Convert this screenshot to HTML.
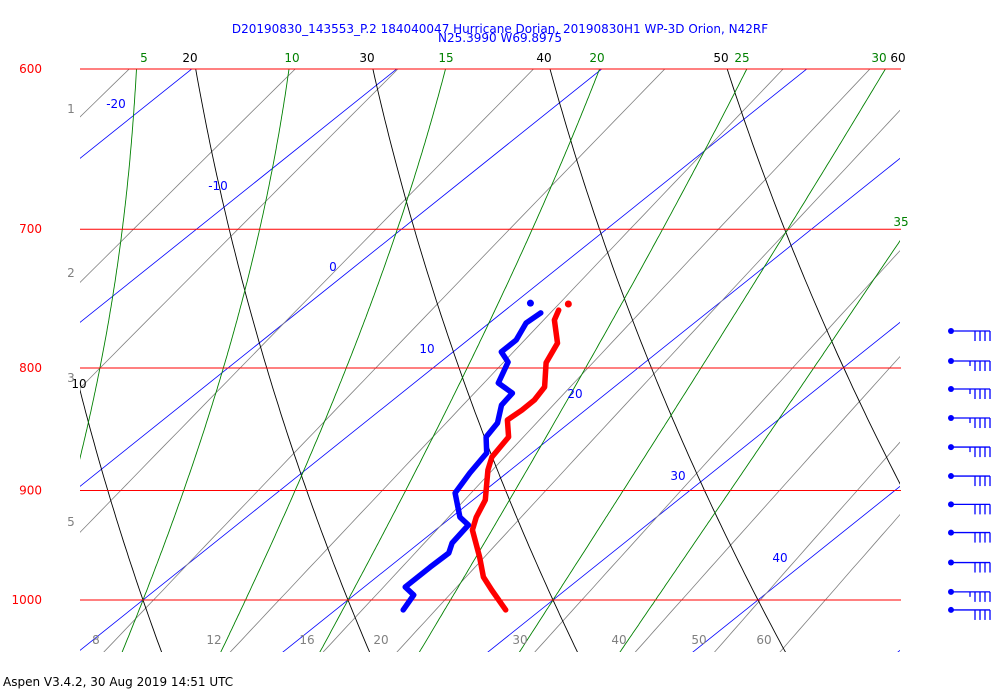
<!DOCTYPE html>
<html><head><meta charset="utf-8">
<style>
html,body{margin:0;padding:0;background:#fff;}
svg{display:block;font-family:"DejaVu Sans","Liberation Sans",sans-serif;}
</style></head>
<body>
<svg id="chart" width="1000" height="700" viewBox="0 0 1000 700">
<defs><clipPath id="plotclip"><rect x="80" y="69" width="820" height="583"/></clipPath></defs>
<text x="500" y="33" text-anchor="middle" font-size="12" fill="#0000ff">D20190830_143553_P.2 184040047 Hurricane Dorian, 20190830H1 WP-3D Orion, N42RF</text>
<text x="500" y="42" text-anchor="middle" font-size="12" fill="#0000ff">N25.3990 W69.8975</text>
<g id="grid" clip-path="url(#plotclip)"></g>
<g id="isobars"></g>
<g id="labels"></g>
<g id="profiles"></g>
<g id="barbs"></g>
<text x="3" y="686" font-size="12" fill="#000">Aspen V3.4.2, 30 Aug 2019  14:51 UTC</text>
</svg>
<script>
// ---- data ----
const tempP  = [752.2,756.6,763.9,781,796,814.7,825,833,841,854.9,871.5,882.5,908.3,923.3,934.9,959.5,978.1,990.4,1009.6];
const tempC  = [12.7,12.6,13.0,14.55,15.2,16.6,16.9,16.9,16.8,17.9,18.3,18.9,20.6,21.2,21.8,23.8,25.2,26.4,28.3];
const dewP   = [751.6,758.7,766.1,778.7,787.7,795.4,811.6,819.5,829,843.4,854.9,868.1,885,902.2,923.3,930.4,946.6,955.8,968.8,987.6,995.2,1009.6];
const dewC   = [10.8,11.9,11.8,12.35,12.35,13.3,14.1,15.4,15.6,16.5,16.8,17.8,18.2,18.7,20.4,21.3,21.6,22.05,22.0,22.0,22.9,23.3];
const barbP  = [772,794.6,816.3,839.4,863.2,887.6,912.1,937.2,964.6,992.2,1009.6];
const barbKt = [40,45,45,45,45,40,40,40,40,45,40];
const isobarLevels = [600,700,800,900,1000];
const isotherms = [-60,-50,-40,-30,-20,-10,0,10,20,30,40,50,60];
const dryAdiabats = [0,10,20,30,40,50,60,70];
const moistAdiabats = [5,10,15,20,25,30,35];
const mixRatios = [1,2,3,5,8,12,16,20,30,40,50,60];

const NS='http://www.w3.org/2000/svg';
const SKEW=1.25;
function Y(p){return 69+1039.5*Math.log(p/600);}
function X(T,p){return 143+20.5*(T-10)+(600-Y(p))*SKEW;}
function mk(tag,attrs,parent){const e=document.createElementNS(NS,tag);for(const k in attrs)e.setAttribute(k,attrs[k]);parent.appendChild(e);return e;}
const grid=document.getElementById('grid');
function poly(pts,color,w,parent,name){
  const e=mk('polyline',{points:pts.map(q=>q[0].toFixed(1)+','+q[1].toFixed(1)).join(' '),fill:'none',stroke:color,'stroke-width':w,'stroke-linejoin':'round','stroke-linecap':'round'},parent);
  
  
  return e;
}
// isotherms
isotherms.forEach(t=>{poly([[X(t,1070),Y(1070)],[X(t,590),Y(590)]],'#0000ff',0.8,grid,'isotherm-'+t);});
// mixing ratio
mixRatios.forEach(w=>{const pts=[];for(let p=1070;p>=590;p-=10){const e=w/1000*p/(0.622+w/1000);const l=Math.log(e/6.112);const T=243.5*l/(17.67-l);pts.push([X(T,p),Y(p)]);}poly(pts,'#808080',0.8,grid,'mixing-ratio-'+w);});
// dry adiabats
dryAdiabats.forEach(th=>{const pts=[];for(let p=1070;p>=590;p-=5){const T=(th+273.15)*Math.pow(p/1000,0.2857)-273.15;pts.push([X(T,p),Y(p)]);}poly(pts,'#000000',0.9,grid,'dry-adiabat-'+th);});
// moist adiabats
function dTdp(T,p){const es=6.112*Math.exp(17.67*(T-273.15)/(T-29.65));const rs=0.622*es/(p-es);const Rd=287.04,cp=1005.7,Lv=2.501e6;return (Rd*T+Lv*rs)/p/(cp+Lv*Lv*rs*0.622/(Rd*T*T));}
function integ(T,p0,p1,dp){const out=[];let p=p0;out.push([T,p]);while((dp<0&&p>p1)||(dp>0&&p<p1)){const k1=dTdp(T,p),k2=dTdp(T+k1*dp/2,p+dp/2),k3=dTdp(T+k2*dp/2,p+dp/2),k4=dTdp(T+k3*dp,p+dp);T+=dp*(k1+2*k2+2*k3+k4)/6;p+=dp;out.push([T,p]);}return out;}
moistAdiabats.forEach(tw=>{const up=integ(tw+273.15,1000,590,-2),dn=integ(tw+273.15,1000,1070,2);const all=dn.reverse().concat(up.slice(1));poly(all.map(q=>[X(q[0]-273.15,q[1]),Y(q[1])]),'#008000',0.9,grid,'moist-adiabat-'+tw);});
// isobars
const iso=document.getElementById('isobars');
isobarLevels.forEach(p=>{const l=mk('line',{x1:80,x2:901,y1:Y(p),y2:Y(p),stroke:'#ff0000','stroke-width':1},iso);


const t=mk('text',{x:42,y:Y(p)+4,'text-anchor':'end','font-size':12,fill:'#ff0000'},iso);t.textContent=p;

});
// labels
const lab=document.getElementById('labels');
function txt(s,x,y,c,name){const t=mk('text',{x:x,y:y,'text-anchor':'middle','font-size':12,fill:c},lab);t.textContent=s;}
[['-20',116,108],['-10',218,190],['0',333,271],['10',427,353],['20',575,398],['30',678,480],['40',780,562]].forEach(a=>txt(a[0],a[1],a[2],'#0000ff','isotherm-label-'+a[0]));
[['20',190,62],['30',367,62],['40',544,62],['50',721,62],['60',898,62],['10',79,388]].forEach(a=>txt(a[0],a[1],a[2],'#000000','dry-adiabat-label-'+a[0]));
[['5',144,62],['10',292,62],['15',446,62],['20',597,62],['25',742,62],['30',879,62],['35',901,226]].forEach(a=>txt(a[0],a[1],a[2],'#008000','moist-adiabat-label-'+a[0]));
[['1',71,113],['2',71,277],['3',71,382],['5',71,526],['8',96,644],['12',214,644],['16',307,644],['20',381,644],['30',520,644],['40',619,644],['50',699,644],['60',764,644]].forEach(a=>txt(a[0],a[1],a[2],'#808080','mixing-ratio-label-'+a[0]));
// profiles
const prof=document.getElementById('profiles');
function profile(P,T,color,name){
  const pts=P.map((p,i)=>[X(T[i],p),Y(p)]);
  poly(pts.slice(1),color,5.5,prof,name+'-line');
  const c=mk('circle',{cx:pts[0][0],cy:pts[0][1],r:3.5,fill:color},prof);
  
  
}
profile(tempP,tempC,'#ff0000','temperature-profile');
profile(dewP,dewC,'#0000ff','dewpoint-profile');
// wind barbs
const bg=document.getElementById('barbs');
barbP.forEach((p,i)=>{const y=Y(p);const g=mk('g',{},bg);


mk('circle',{cx:951,cy:y,r:3,fill:'#0000ff'},g);
mk('line',{x1:951,y1:y,x2:990,y2:y,stroke:'#0000ff','stroke-width':1.3},g);
const n=Math.floor(barbKt[i]/10),half=(barbKt[i]%10)>=5;
for(let k=0;k<n;k++){const bx=990-k*5;mk('line',{x1:bx,y1:y,x2:bx,y2:y+10,stroke:'#0000ff','stroke-width':1.3},g);}
if(half){const bx=990-n*5;mk('line',{x1:bx,y1:y,x2:bx,y2:y+5,stroke:'#0000ff','stroke-width':1.3},g);}
});
</script>
</body></html>
